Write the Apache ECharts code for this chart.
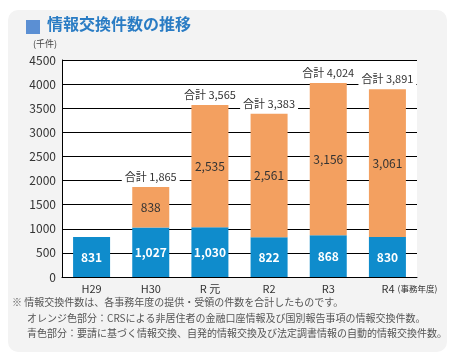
<!DOCTYPE html>
<html><head><meta charset="utf-8">
<script src="https://cdn.jsdelivr.net/npm/echarts@6/dist/echarts.min.js"></script>
<style>html,body{margin:0;padding:0;background:#fff}#c{width:468px;height:362px}</style>
</head><body><div id="c"></div>
<script>
const categories = ['H29', 'H30', 'R 元', 'R2', 'R3', 'R4'];
const blueValues = [831, 1027, 1030, 822, 868, 830];
const orangeValues = [null, 838, 2535, 2561, 3156, 3061];
const totals = [null, 1865, 3565, 3383, 4024, 3891];
const yTicks = [0, 500, 1000, 1500, 2000, 2500, 3000, 3500, 4000, 4500];
const titleText = '情報交換件数の推移';
const unitText = '(千件)';
const notes = [
  '※ 情報交換件数は、各事務年度の提供・受領の件数を合計したものです。',
  'オレンジ色部分：CRSによる非居住者の金融口座情報及び国別報告事項の情報交換件数。',
  '青色部分：要請に基づく情報交換、自発的情報交換及び法定調書情報の自動的情報交換件数。'
];
const FONT = '"Noto Sans CJK JP", "Noto Sans", sans-serif';
const fmt = v => v.toLocaleString('en-US');

const chart = echarts.init(document.getElementById('c'));
chart.setOption({
  animation: false,
  textStyle: { fontFamily: FONT },
  graphic: [
    { type: 'rect', z: -10, shape: { x: 8, y: 10, width: 439, height: 342, r: 10 }, style: { fill: '#f3f3f3' } },
    { type: 'rect', shape: { x: 26, y: 20, width: 14, height: 14 }, style: { fill: '#5b8fd3' } },
    { type: 'text', left: 47, top: 16, style: { text: titleText, fill: '#2a7cc4', font: 'bold 16px ' + FONT } },
    { type: 'text', left: 33, top: 39, style: { text: unitText, fill: '#444', font: '9px ' + FONT } },
    { type: 'text', left: 12, top: 297, style: { text: notes[0], fill: '#555', font: '10px ' + FONT } },
    { type: 'text', left: 27, top: 313, style: { text: notes[1], fill: '#555', font: '10px ' + FONT } },
    { type: 'text', left: 27, top: 328, style: { text: notes[2], fill: '#555', font: '10px ' + FONT } }
  ],
  grid: { left: 62, right: 51, top: 60, bottom: 85, show: true, backgroundColor: '#fff', borderWidth: 0 },
  xAxis: {
    type: 'category',
    data: categories,
    axisLine: { lineStyle: { color: '#000', width: 1 } },
    axisTick: { inside: true, length: 5, lineStyle: { color: '#000' } },
    axisLabel: {
      interval: 0, hideOverlap: false,
      color: '#333', fontSize: 11, margin: 6,
      formatter: v => v === 'R4' ? '{sp|}R4{s|(事務年度)}' : v,
      rich: { sp: { width: 44 }, s: { fontSize: 8.5, color: '#333', padding: [0, 0, 0, 3] } }
    }
  },
  yAxis: {
    type: 'value', min: 0, max: 4500, interval: 500,
    axisLine: { show: true, lineStyle: { color: '#000', width: 1 } },
    axisTick: { show: false },
    splitLine: { lineStyle: { color: '#000', width: 1 } },
    axisLabel: { color: '#333', fontSize: 12, margin: 6,
      formatter: v => yTicks.includes(v) ? String(v) : '' }
  },
  series: [
    {
      type: 'bar', stack: 't', data: blueValues, barWidth: 37,
      itemStyle: { color: '#0f8ccc' },
      label: { show: true, position: 'inside', color: '#fff', fontSize: 12, fontWeight: 'bold', formatter: p => fmt(p.value) }
    },
    {
      type: 'bar', stack: 't', data: orangeValues, barWidth: 37,
      itemStyle: { color: '#f3a060' },
      label: { show: true, position: 'inside', color: '#333', fontSize: 12, formatter: p => p.value == null ? '' : fmt(p.value) }
    },
    {
      type: 'bar', stack: 't', data: totals.map(t => t == null ? null : 0), barWidth: 37,
      itemStyle: { color: 'transparent' },
      label: { show: true, position: 'top', distance: 4, color: '#333', fontSize: 11,
        backgroundColor: '#fff', padding: [1, 3],
        formatter: p => totals[p.dataIndex] == null ? '' : '合計 ' + fmt(totals[p.dataIndex]) }
    }
  ]
});
</script></body></html>
